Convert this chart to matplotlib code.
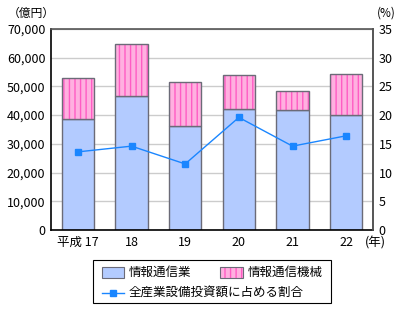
import matplotlib
matplotlib.use("Agg")
import matplotlib.pyplot as plt
from matplotlib.patches import Rectangle
from matplotlib.lines import Line2D
import numpy as np

plt.rcParams['font.family'] = ['Noto Sans CJK JP', 'DejaVu Sans']
plt.rcParams['hatch.linewidth'] = 1.0

# data
years = ['平成 17', '18', '19', '20', '21', '22']
joho_tsushin_gyo = [38600, 46800, 36100, 42000, 41700, 39900]      # 情報通信業 (億円)
joho_tsushin_kikai = [14200, 18000, 15300, 11900, 6800, 14500]     # 情報通信機械 (億円)
share = [13.6, 14.6, 11.5, 19.6, 14.6, 16.4]                       # 全産業設備投資額に占める割合 (%)
labels = ['情報通信業', '情報通信機械', '全産業設備投資額に占める割合']

blue = '#b3cbff'
pink_bg = '#ffb0e0'
pink_ln = '#ff5cc4'
edge = '#6b6b78'
line_c = '#1a86ff'

fig = plt.figure(figsize=(4.03, 3.09), dpi=100)
ax1 = fig.add_axes([0.1266, 0.2557, 0.7990, 0.6505])
x = np.arange(len(years))
w = 0.6

ax1.bar(x, joho_tsushin_gyo, w, color=blue, edgecolor=edge, linewidth=1, zorder=2)
ax1.bar(x, joho_tsushin_kikai, w, bottom=joho_tsushin_gyo, color=pink_bg,
        edgecolor=pink_ln, hatch='|||', linewidth=0, zorder=2)
ax1.bar(x, joho_tsushin_kikai, w, bottom=joho_tsushin_gyo, fill=False,
        edgecolor=edge, linewidth=1, zorder=3)

ax1.set_ylim(0, 70000)
ax1.set_xlim(-0.5, len(years) - 0.5)
ax1.set_yticks(np.arange(0, 70001, 10000))
ax1.set_yticklabels([f'{v:,}' for v in range(0, 70001, 10000)], fontsize=9)
ax1.set_xticks(x)
ax1.set_xticklabels(years, fontsize=9)
ax1.tick_params(length=0, pad=4)
ax1.grid(axis='y', color='#cccccc', linewidth=1, zorder=0)
ax1.set_axisbelow(True)
for s in ['left', 'bottom']:
    ax1.spines[s].set_color('black')
    ax1.spines[s].set_linewidth(1.2)
for s in ['top', 'right']:
    ax1.spines[s].set_color('#555555')
    ax1.spines[s].set_linewidth(1.2)

ax2 = ax1.twinx()
ax2.plot(x, share, color=line_c, linewidth=1, marker='s', markersize=5,
         markerfacecolor=line_c, markeredgecolor=line_c, zorder=5)
ax2.set_ylim(0, 35)
ax2.set_yticks(np.arange(0, 36, 5))
ax2.tick_params(length=0, pad=4, labelsize=9)
for s in ['left', 'bottom', 'top']:
    ax2.spines[s].set_visible(False)
ax2.spines['right'].set_color('#555555')
ax2.spines['right'].set_linewidth(1.2)

fig.text(0.02, 0.958, '（億円）', fontsize=8.5, va='center', ha='left')
fig.text(0.935, 0.958, '(%)', fontsize=8.5, va='center', ha='left')
fig.text(0.905, 0.212, '(年)', fontsize=9, va='center', ha='left')

# legend drawn by hand
fig.add_artist(Rectangle((0.231, 0.019), 0.590, 0.140, transform=fig.transFigure,
                         facecolor='white', edgecolor='black', linewidth=0.8))
fig.add_artist(Rectangle((0.252, 0.100), 0.056, 0.036, transform=fig.transFigure,
                         facecolor=blue, edgecolor=edge, linewidth=0.8))
fig.add_artist(Rectangle((0.546, 0.100), 0.056, 0.036, transform=fig.transFigure,
                         facecolor=pink_bg, edgecolor=pink_ln, hatch='|||', linewidth=0))
fig.add_artist(Rectangle((0.546, 0.100), 0.056, 0.036, transform=fig.transFigure,
                         fill=False, edgecolor=edge, linewidth=0.8))
fig.add_artist(Line2D([0.252, 0.308], [0.053, 0.053], transform=fig.transFigure,
                      color=line_c, linewidth=1))
fig.add_artist(Line2D([0.280], [0.053], transform=fig.transFigure, color=line_c,
                      marker='s', markersize=5, linestyle='none'))
fig.text(0.320, 0.118, labels[0], fontsize=9, va='center', ha='left')
fig.text(0.615, 0.118, labels[1], fontsize=9, va='center', ha='left')
fig.text(0.320, 0.053, labels[2], fontsize=9, va='center', ha='left')

fig.savefig('out.png', dpi=100)
